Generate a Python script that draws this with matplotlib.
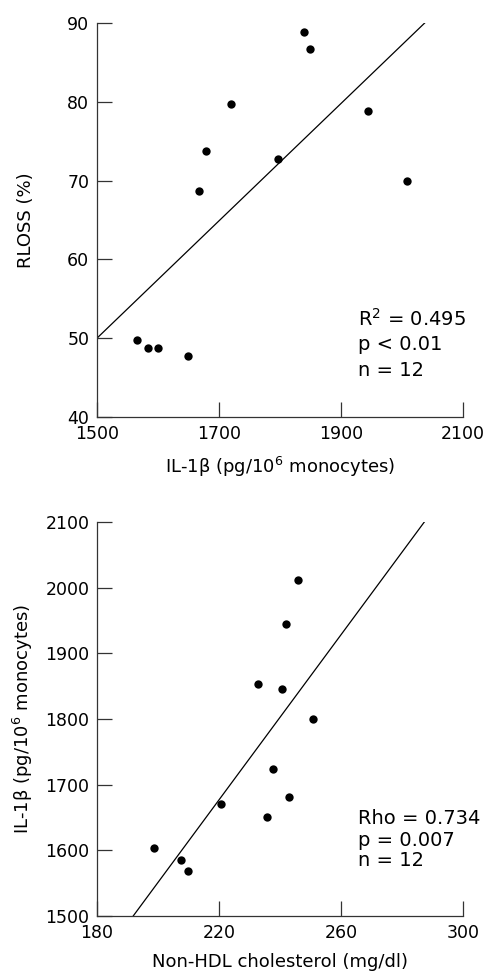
import numpy as np
import matplotlib
matplotlib.use('Agg')
import matplotlib.pyplot as plt

# panel A: IL-1b vs RLOSS
il1b_a = [1565, 1584, 1600, 1649, 1668, 1678, 1720, 1797, 1840, 1849, 1944, 2008]
rloss = [49.8, 48.7, 48.7, 47.7, 68.7, 73.8, 79.7, 72.8, 88.8, 86.7, 78.8, 69.9]
fit_a_x = [1500, 2037]
fit_a_y = [50, 90]
stats_a = ['R$^2$ = 0.495', 'p < 0.01', 'n = 12']

# panel B: non-HDL cholesterol vs IL-1b
chol = [198.7, 207.6, 209.8, 220.8, 232.8, 235.8, 237.8, 240.7, 242.0, 242.8, 245.9, 250.7]
il1b_b = [1604, 1585, 1568, 1670, 1853, 1651, 1723, 1845, 1945, 1681, 2011, 1800]
fit_b_x = [191.9, 287.3]
fit_b_y = [1500, 2100]
stats_b = ['Rho = 0.734', 'p = 0.007', 'n = 12']

plt.rcParams['font.family'] = ['DejaVu Sans']
plt.rcParams['mathtext.fontset'] = 'dejavusans'

fig = plt.figure(figsize=(4.87, 9.71), dpi=100)
ax1 = fig.add_axes([0.199, 0.5705, 0.752, 0.4058])
ax2 = fig.add_axes([0.199, 0.0567, 0.752, 0.4058])

SPC = '#333333'


def style(ax):
    for s in ['top', 'right']:
        ax.spines[s].set_visible(False)
    for s in ['left', 'bottom']:
        ax.spines[s].set_linewidth(0.9)
        ax.spines[s].set_color(SPC)
    ax.tick_params(direction='in', length=11, width=0.9, color=SPC,
                   labelsize=12.5)
    ax.tick_params(axis='x', pad=6)
    ax.tick_params(axis='y', pad=5.5)


def draw(ax, xs, ys, fx, fy, stats, ybases):
    ax.scatter(xs, ys, s=36, color='black', zorder=3, linewidths=0)
    ax.plot(fx, fy, color='black', lw=0.9)
    for t, yb in zip(stats, ybases):
        ax.text(0.713, yb, t, transform=ax.transAxes, fontsize=14,
                va='baseline', ha='left')


draw(ax1, il1b_a, rloss, fit_a_x, fit_a_y, stats_a, [0.231, 0.170, 0.104])
ax1.set_xlim(1500, 2100)
ax1.set_ylim(40, 90)
ax1.set_xticks([1500, 1700, 1900, 2100])
ax1.set_yticks([40, 50, 60, 70, 80, 90])
ax1.set_xlabel('IL-1β (pg/10$^6$ monocytes)', fontsize=13)
ax1.set_ylabel('RLOSS (%)', fontsize=13)
style(ax1)

draw(ax2, chol, il1b_b, fit_b_x, fit_b_y, stats_b, [0.233, 0.178, 0.127])
ax2.set_xlim(180, 300)
ax2.set_ylim(1500, 2100)
ax2.set_xticks([180, 220, 260, 300])
ax2.set_yticks([1500, 1600, 1700, 1800, 1900, 2000, 2100])
ax2.set_xlabel('Non-HDL cholesterol (mg/dl)', fontsize=13)
ax2.set_ylabel('IL-1β (pg/10$^6$ monocytes)', fontsize=13)
style(ax2)

for ax in (ax1, ax2):
    ax.xaxis.set_label_coords(0.5, -0.095)
    ax.yaxis.set_label_coords(-0.17, 0.5)

fig.savefig('out.png', dpi=100, facecolor='white')
